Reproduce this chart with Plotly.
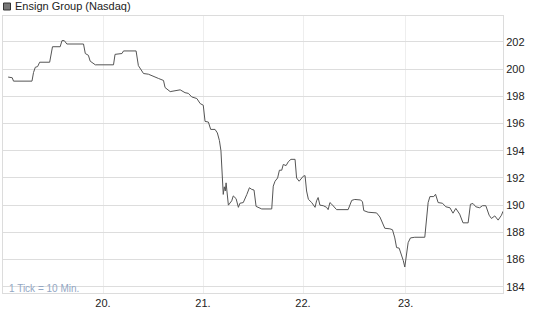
import plotly.graph_objects as go

# 10-minute tick index (x) and price (y)
tick_index = [2, 3.6, 4.1, 11.3, 11.9, 12.6, 13.5, 14.3, 18.2, 18.8, 19.3, 22.3, 23.0, 23.9, 24.9,
              31.4, 32.1, 33.3, 34.0, 36.0, 43.1, 43.7, 46.4, 47.0, 51.9, 52.8, 54.8, 56.7, 58.7,
              60.6, 62.6, 63.2, 65.2, 67.1, 69.1, 71.0, 72.3, 73.6, 75.6, 76.9, 78.1, 78.8, 80.1,
              81.0, 82.7, 83.6, 84.4, 85.0, 85.4, 85.7, 85.9, 86.3, 86.7, 87.0, 87.5, 87.9, 89.2,
              89.8, 90.9, 91.8, 92.4, 93.7, 95.1, 96.1, 97.0, 97.9, 98.7, 99.6, 100.9, 104.8,
              105.4, 106.1, 107.1, 107.8, 108.7, 109.3, 110.4, 111.3, 112.3, 113.9, 114.5, 115.5,
              116.5, 117.1, 117.8, 118.4, 119.1, 120.4, 121.7, 122.3, 122.9, 123.6, 124.9, 126.2,
              126.8, 127.5, 128.2, 129.5, 130.1, 134.6, 136.0, 137.2, 139.5, 140.2, 140.7, 142.4,
              145.7, 147.0, 148.0, 148.9, 150.9, 151.9, 152.8, 153.5, 154.5, 155.4, 156.1, 156.7,
              157.1, 158.0, 158.9, 160.6, 164.5, 165.2, 165.8, 166.5, 168.0, 168.7, 169.7, 171.4,
              172.7, 174.3, 175.5, 176.6, 178.1, 179.4, 181.4, 182.3, 183.3, 184.4, 185.9, 187.0,
              188.3, 189.6, 190.5, 191.8, 193.1, 194.4, 195.0]
price = [199.42, 199.37, 199.12, 199.12, 199.75, 200.14, 200.19, 200.51, 200.51, 201.34, 201.65,
         201.65, 202.10, 202.10, 201.85, 201.85, 201.15, 201.02, 200.59, 200.32, 200.32, 201.09,
         201.15, 201.34, 201.34, 200.26, 199.68, 199.63, 199.45, 199.32, 199.17, 198.65, 198.35,
         198.42, 198.48, 198.27, 198.22, 197.96, 197.84, 197.47, 197.35, 196.16, 196.11, 195.57,
         195.57, 195.31, 194.75, 194.00, 192.88, 191.52, 190.79, 191.35, 191.04, 191.64, 190.79,
         190.00, 190.32, 190.68, 190.48, 189.84, 190.14, 190.19, 190.79, 191.28, 191.16, 191.11,
         189.91, 189.84, 189.72, 189.72, 191.40, 191.76, 192.00, 192.57, 192.57, 192.99, 192.91,
         193.20, 193.37, 193.37, 192.00, 191.76, 192.00, 192.13, 192.17, 191.04, 190.43, 190.19,
         189.84, 190.32, 190.56, 190.00, 189.96, 189.84, 189.67, 190.19, 190.07, 189.79, 189.67,
         189.67, 190.35, 190.42, 190.38, 190.24, 189.60, 189.48, 189.43, 189.13, 188.66, 188.30,
         188.26, 188.19, 187.59, 186.88, 186.84, 186.41, 185.93, 185.45, 186.16, 187.24, 187.59,
         187.64, 187.64, 188.82, 190.19, 190.63, 190.63, 190.80, 190.19, 190.14, 189.88, 189.81,
         189.41, 189.76, 189.34, 188.70, 188.70, 190.07, 190.12, 189.88, 189.81, 189.96, 189.96,
         189.26, 189.02, 189.21, 188.90, 189.26, 189.55]

day_tick_positions = [39, 78, 117, 157]
day_tick_labels = ["20.", "21.", "22.", "23."]
price_ticks = [184, 186, 188, 190, 192, 194, 196, 198, 200, 202]
title_text = "Ensign Group (Nasdaq)"
note_text = "1 Tick = 10 Min."

FONT = "Liberation Sans, Arial, sans-serif"
W, H = 545, 327
ML, MR, MT, MB = 3, 42, 16, 34
PW, PH = W - ML - MR, H - MT - MB


def px_x(px):
    return (px - ML) / PW


def px_y(py):
    return (H - MB - py) / PH


fig = go.Figure()
fig.add_trace(go.Scatter(x=tick_index, y=price, mode="lines",
                         line=dict(color="#555555", width=1), hoverinfo="skip",
                         showlegend=False))

fig.update_layout(
    width=W, height=H,
    margin=dict(l=ML, r=MR, t=MT, b=MB, pad=0),
    paper_bgcolor="white", plot_bgcolor="white",
    font=dict(family=FONT, size=11, color="#222222"),
    showlegend=False,
    xaxis=dict(range=[0, 195], tickmode="array", tickvals=day_tick_positions,
               ticktext=day_tick_labels, showgrid=True, gridcolor="#eeeeee", gridwidth=1,
               zeroline=False, showline=True, linecolor="#dcdcdc", linewidth=1, mirror=True,
               ticks="", tickfont=dict(family=FONT, size=11, color="#222222")),
    yaxis=dict(range=[183.54, 203.91], side="right", tickmode="array", tickvals=price_ticks,
               ticktext=[str(v) for v in price_ticks], showgrid=True, gridcolor="#dddddd",
               gridwidth=1, zeroline=False, showline=True, linecolor="#dcdcdc", linewidth=1,
               mirror=True, ticks="", tickfont=dict(family=FONT, size=11, color="#222222")),
)

fig.add_shape(type="rect", xref="paper", yref="paper",
              x0=px_x(3.5), x1=px_x(10.5), y0=px_y(10), y1=px_y(3),
              fillcolor="#777777", line=dict(color="#333333", width=1))
fig.add_annotation(xref="paper", yref="paper", x=px_x(13), y=px_y(6.5),
                   xanchor="left", yanchor="middle", showarrow=False, text=title_text,
                   font=dict(family=FONT, size=11, color="#222222"))
fig.add_annotation(xref="paper", yref="paper", x=px_x(7), y=px_y(288),
                   xanchor="left", yanchor="middle", showarrow=False, text=note_text,
                   font=dict(family=FONT, size=10, color="#93a7c4"))

fig.write_html("out.html")
